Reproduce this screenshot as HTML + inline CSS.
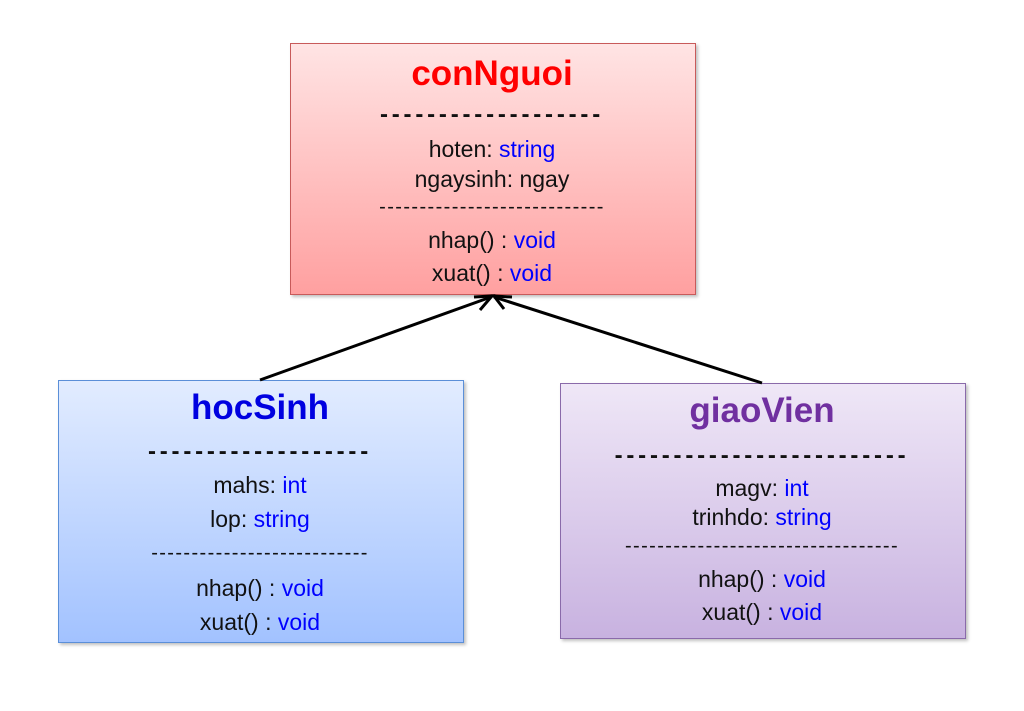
<!DOCTYPE html>
<html><head><meta charset="utf-8"><style>
body{margin:0;width:1024px;height:711px;background:#fff;position:relative;overflow:hidden;font-family:"Liberation Sans",Arial,sans-serif}
.box{position:absolute;box-sizing:border-box;box-shadow:2px 2px 3px rgba(0,0,0,.25)}
.t{position:absolute;width:400px;height:30px;line-height:30px;text-align:center;font-size:23px;color:#111;white-space:nowrap}
.b{color:#0000ff}
.title{font-size:35px;font-weight:bold;height:40px;line-height:40px}
.d1{font-weight:bold;font-size:24px;letter-spacing:3.8px}
.d2{font-size:20px;letter-spacing:1.4px}
</style></head><body>
<div class="box" style="left:290px;top:43px;width:406px;height:252px;border:1px solid #c85a5a;background:linear-gradient(#ffe4e4,#ffa0a0)"></div>
<div class="box" style="left:58px;top:380px;width:406px;height:263px;border:1px solid #5b8fd8;background:linear-gradient(#e2ecff,#a2c2ff)"></div>
<div class="box" style="left:560px;top:383px;width:406px;height:256px;border:1px solid #8a6aaa;background:linear-gradient(#efe7f7,#c8b2e0)"></div>
<svg width="1024" height="711" style="position:absolute;left:0;top:0">
<g stroke="#000" stroke-width="3" fill="none">
<line x1="260" y1="380" x2="491" y2="297"/>
<line x1="762" y1="383" x2="494" y2="297"/>
<polyline points="474,297 492,296 480,310"/>
<polyline points="504,309 494,296 512,297"/>
</g>
</svg>
<!-- red -->
<div class="t title" style="left:292px;top:54px;color:#ff0000">conNguoi</div>
<div class="t d1" style="left:292px;top:100px">-------------------</div>
<div class="t" style="left:292px;top:134px">hoten: <span class="b">string</span></div>
<div class="t" style="left:292px;top:164px">ngaysinh: ngay</div>
<div class="t d2" style="left:292px;top:192px">----------------------------</div>
<div class="t" style="left:292px;top:225px">nhap() : <span class="b">void</span></div>
<div class="t" style="left:292px;top:258px">xuat() : <span class="b">void</span></div>
<!-- blue -->
<div class="t title" style="left:60px;top:388px;color:#0000e0">hocSinh</div>
<div class="t d1" style="left:60px;top:437px">-------------------</div>
<div class="t" style="left:60px;top:470px">mahs: <span class="b">int</span></div>
<div class="t" style="left:60px;top:504px">lop: <span class="b">string</span></div>
<div class="t d2" style="left:60px;top:538px">---------------------------</div>
<div class="t" style="left:60px;top:573px">nhap() : <span class="b">void</span></div>
<div class="t" style="left:60px;top:607px">xuat() : <span class="b">void</span></div>
<!-- purple -->
<div class="t title" style="left:562px;top:391px;color:#7030a0">giaoVien</div>
<div class="t d1" style="left:562px;top:441px">-------------------------</div>
<div class="t" style="left:562px;top:473px">magv: <span class="b">int</span></div>
<div class="t" style="left:562px;top:502px">trinhdo: <span class="b">string</span></div>
<div class="t d2" style="left:562px;top:531px">----------------------------------</div>
<div class="t" style="left:562px;top:564px">nhap() : <span class="b">void</span></div>
<div class="t" style="left:562px;top:597px">xuat() : <span class="b">void</span></div>
</body></html>
